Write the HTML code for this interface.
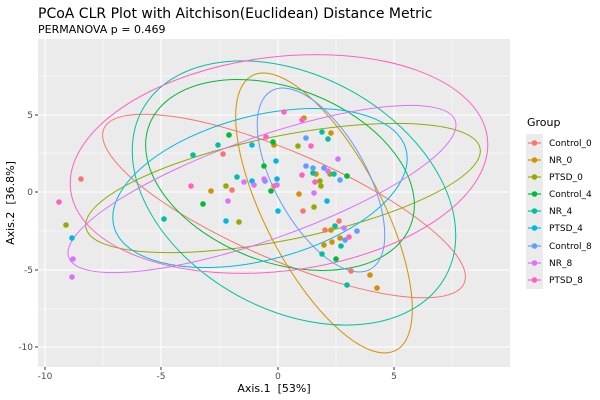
<!DOCTYPE html>
<html><head><meta charset="utf-8"><style>
html,body{margin:0;padding:0;background:#fff;}
svg{display:block;font-family:"DejaVu Sans","Liberation Sans",sans-serif;}
</style></head><body>
<svg width="600" height="400" viewBox="0 0 600 400" xmlns="http://www.w3.org/2000/svg">
<rect x="0" y="0" width="600" height="400" fill="#fff"/>
<text x="38" y="18" font-size="14" fill="#000">PCoA CLR Plot with Aitchison(Euclidean) Distance Metric</text>
<text x="38" y="33" font-size="11" fill="#000">PERMANOVA p = 0.469</text>
<rect x="38" y="39" width="472" height="328" fill="#ebebeb"/>
<g stroke="#fff" stroke-width="0.55" fill="none">
<line x1="103" y1="39" x2="103" y2="367"/><line x1="220" y1="39" x2="220" y2="367"/><line x1="336" y1="39" x2="336" y2="367"/><line x1="452" y1="39" x2="452" y2="367"/>
<line x1="38" y1="76" x2="510" y2="76"/><line x1="38" y1="153" x2="510" y2="153"/><line x1="38" y1="231" x2="510" y2="231"/><line x1="38" y1="309" x2="510" y2="309"/>
</g>
<g stroke="#fff" stroke-width="1.1" fill="none">
<line x1="45" y1="39" x2="45" y2="367"/><line x1="161" y1="39" x2="161" y2="367"/><line x1="278" y1="39" x2="278" y2="367"/><line x1="394" y1="39" x2="394" y2="367"/>
<line x1="38" y1="115" x2="510" y2="115"/><line x1="38" y1="192" x2="510" y2="192"/><line x1="38" y1="270" x2="510" y2="270"/><line x1="38" y1="347" x2="510" y2="347"/>
</g>
<g fill="none" stroke-width="1">
<ellipse cx="284" cy="206" rx="196" ry="54" transform="rotate(23.2 284 206)" stroke="#F8766D"/>
<ellipse cx="324" cy="213" rx="155" ry="58" transform="rotate(62.4 324 213)" stroke="#D39200"/>
<ellipse cx="283" cy="188" rx="201" ry="52" transform="rotate(-11.4 283 188)" stroke="#93AA00"/>
<ellipse cx="280" cy="175" rx="140" ry="87" transform="rotate(21 280 175)" stroke="#00BA38"/>
<ellipse cx="294" cy="193" rx="173" ry="117" transform="rotate(28.8 294 193)" stroke="#00C19F"/>
<ellipse cx="260" cy="188" rx="151" ry="72" transform="rotate(-14.7 260 188)" stroke="#00B9E3"/>
<ellipse cx="321" cy="180" rx="102" ry="46" transform="rotate(61 321 180)" stroke="#619CFF"/>
<ellipse cx="262" cy="189" rx="205" ry="51" transform="rotate(-19.5 262 189)" stroke="#DB72FB"/>
<ellipse cx="279" cy="164" rx="210" ry="107" transform="rotate(-7.2 279 164)" stroke="#FF61C3"/>
</g>
<g stroke="none">
<g fill="#F8766D"><circle cx="81" cy="179" r="2.8"/><circle cx="223" cy="154" r="2.8"/><circle cx="232" cy="190" r="2.8"/><circle cx="274" cy="186" r="2.8"/><circle cx="303" cy="211" r="2.8"/><circle cx="339" cy="221" r="2.8"/><circle cx="325" cy="230" r="2.8"/><circle cx="351" cy="271" r="2.8"/></g>
<g fill="#D39200"><circle cx="211" cy="191" r="2.8"/><circle cx="274" cy="145" r="2.8"/><circle cx="304" cy="118" r="2.8"/><circle cx="331" cy="133" r="2.8"/><circle cx="316" cy="174" r="2.8"/><circle cx="299" cy="194" r="2.8"/><circle cx="331" cy="230" r="2.8"/><circle cx="340" cy="238" r="2.8"/><circle cx="332" cy="242" r="2.8"/><circle cx="324" cy="245" r="2.8"/><circle cx="370" cy="275" r="2.8"/><circle cx="377" cy="288" r="2.8"/></g>
<g fill="#93AA00"><circle cx="66" cy="225" r="2.8"/><circle cx="226" cy="186" r="2.8"/><circle cx="239" cy="222" r="2.8"/><circle cx="298" cy="146" r="2.8"/><circle cx="330" cy="174" r="2.8"/><circle cx="320" cy="181" r="2.8"/><circle cx="321" cy="186" r="2.8"/><circle cx="314" cy="207" r="2.8"/></g>
<g fill="#00BA38"><circle cx="203" cy="204" r="2.8"/><circle cx="229" cy="135" r="2.8"/><circle cx="264" cy="166" r="2.8"/><circle cx="273" cy="142" r="2.8"/><circle cx="271" cy="191" r="2.8"/><circle cx="347" cy="176" r="2.8"/><circle cx="336" cy="259" r="2.8"/></g>
<g fill="#00C19F"><circle cx="164" cy="219" r="2.8"/><circle cx="193" cy="155" r="2.8"/><circle cx="218" cy="145" r="2.8"/><circle cx="237" cy="177" r="2.8"/><circle cx="322" cy="132" r="2.8"/><circle cx="328" cy="139" r="2.8"/><circle cx="313" cy="173" r="2.8"/><circle cx="334" cy="174" r="2.8"/><circle cx="335" cy="226" r="2.8"/><circle cx="341" cy="246" r="2.8"/><circle cx="322" cy="254" r="2.8"/><circle cx="347" cy="285" r="2.8"/></g>
<g fill="#00B9E3"><circle cx="72" cy="238" r="2.8"/><circle cx="226" cy="221" r="2.8"/><circle cx="252" cy="145" r="2.8"/><circle cx="252" cy="181" r="2.8"/><circle cx="276" cy="161" r="2.8"/><circle cx="277" cy="179" r="2.8"/><circle cx="278" cy="211" r="2.8"/><circle cx="327" cy="201" r="2.8"/></g>
<g fill="#619CFF"><circle cx="265" cy="181" r="2.8"/><circle cx="306" cy="138" r="2.8"/><circle cx="306" cy="166" r="2.8"/><circle cx="313" cy="168" r="2.8"/><circle cx="324" cy="168" r="2.8"/><circle cx="340" cy="180" r="2.8"/><circle cx="357" cy="231" r="2.8"/><circle cx="345" cy="240" r="2.8"/></g>
<g fill="#DB72FB"><circle cx="73" cy="259" r="2.8"/><circle cx="72" cy="277" r="2.8"/><circle cx="228" cy="201" r="2.8"/><circle cx="244" cy="182" r="2.8"/><circle cx="254" cy="185" r="2.8"/><circle cx="264" cy="179" r="2.8"/><circle cx="277" cy="185" r="2.8"/><circle cx="338" cy="159" r="2.8"/><circle cx="328" cy="171" r="2.8"/><circle cx="314" cy="193" r="2.8"/><circle cx="344" cy="228" r="2.8"/></g>
<g fill="#FF61C3"><circle cx="59" cy="202" r="2.8"/><circle cx="191" cy="186" r="2.8"/><circle cx="266" cy="137" r="2.8"/><circle cx="284" cy="112" r="2.8"/><circle cx="302" cy="120" r="2.8"/><circle cx="311" cy="146" r="2.8"/><circle cx="302" cy="175" r="2.8"/><circle cx="315" cy="182" r="2.8"/><circle cx="349" cy="237" r="2.8"/></g>
</g>
<g stroke="#333" stroke-width="1">
<line x1="45" y1="367" x2="45" y2="370"/><line x1="161" y1="367" x2="161" y2="370"/><line x1="278" y1="367" x2="278" y2="370"/><line x1="394" y1="367" x2="394" y2="370"/>
<line x1="35" y1="115" x2="38" y2="115"/><line x1="35" y1="192" x2="38" y2="192"/><line x1="35" y1="270" x2="38" y2="270"/><line x1="35" y1="347" x2="38" y2="347"/>
</g>
<g font-size="9" fill="#4d4d4d" text-anchor="middle">
<text x="45" y="379">-10</text><text x="161" y="379">-5</text><text x="278" y="379">0</text><text x="394" y="379">5</text>
</g>
<g font-size="9" fill="#4d4d4d" text-anchor="end">
<text x="33" y="118">5</text><text x="33" y="195">0</text><text x="33" y="273">-5</text><text x="33" y="350">-10</text>
</g>
<text x="274" y="392" font-size="11" text-anchor="middle" fill="#000">Axis.1 &#160;[53%]</text>
<text transform="translate(14 203) rotate(-90)" font-size="11" text-anchor="middle" fill="#000">Axis.2 &#160;[36.8%]</text>
<text x="527" y="126" font-size="11" fill="#000">Group</text>
<rect x="526" y="134" width="17" height="155" fill="#ebebeb"/>
<g stroke-width="1.2">
<line x1="528" y1="143" x2="541" y2="143" stroke="#F8766D"/><circle cx="534.5" cy="143" r="2.8" fill="#F8766D"/>
<line x1="528" y1="160" x2="541" y2="160" stroke="#D39200"/><circle cx="534.5" cy="160" r="2.8" fill="#D39200"/>
<line x1="528" y1="177" x2="541" y2="177" stroke="#93AA00"/><circle cx="534.5" cy="177" r="2.8" fill="#93AA00"/>
<line x1="528" y1="194" x2="541" y2="194" stroke="#00BA38"/><circle cx="534.5" cy="194" r="2.8" fill="#00BA38"/>
<line x1="528" y1="211" x2="541" y2="211" stroke="#00C19F"/><circle cx="534.5" cy="211" r="2.8" fill="#00C19F"/>
<line x1="528" y1="228" x2="541" y2="228" stroke="#00B9E3"/><circle cx="534.5" cy="228" r="2.8" fill="#00B9E3"/>
<line x1="528" y1="246" x2="541" y2="246" stroke="#619CFF"/><circle cx="534.5" cy="246" r="2.8" fill="#619CFF"/>
<line x1="528" y1="263" x2="541" y2="263" stroke="#DB72FB"/><circle cx="534.5" cy="263" r="2.8" fill="#DB72FB"/>
<line x1="528" y1="280" x2="541" y2="280" stroke="#FF61C3"/><circle cx="534.5" cy="280" r="2.8" fill="#FF61C3"/>
</g>
<g font-size="9" fill="#000">
<text x="549" y="146">Control_0</text><text x="549" y="163">NR_0</text><text x="549" y="180">PTSD_0</text>
<text x="549" y="197">Control_4</text><text x="549" y="214">NR_4</text><text x="549" y="231">PTSD_4</text>
<text x="549" y="249">Control_8</text><text x="549" y="266">NR_8</text><text x="549" y="283">PTSD_8</text>
</g>
</svg>
</body></html>
